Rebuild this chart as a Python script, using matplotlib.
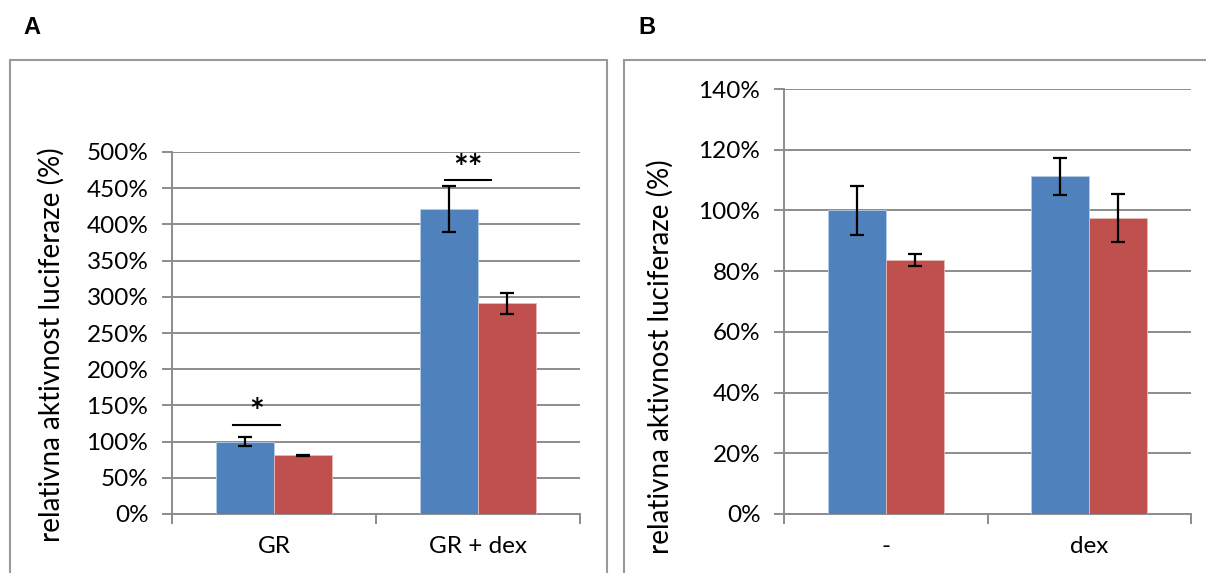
import matplotlib.pyplot as plt
import numpy as np
from matplotlib.patches import Rectangle
from matplotlib.ticker import FuncFormatter, FixedLocator

plt.rcParams['font.family'] = ['Lato', 'DejaVu Sans']

# panel A: GR reporter, without / with dex
cats_a = ['GR', 'GR + dex']
blue_a = [100, 421]
blue_err_a = [6.5, 31.5]
red_a = [81, 291]
red_err_a = [0.6, 14.5]
sig_a = ['*', '**']
sig_y_a = [123, 461]

# panel B: - / dex
cats_b = ['-', 'dex']
blue_b = [100, 111.3]
blue_err_b = [8.2, 6.1]
red_b = [83.7, 97.5]
red_err_b = [2.0, 7.8]

ylabel = 'relativna aktivnost luciferaze (%)'
BLUE = '#4F81BD'
RED = '#C0504D'
GRID = '#8c8c8c'
W = 1 / 3.5

fig = plt.figure(figsize=(12.06, 5.73), dpi=100)


def draw_panel(ax, cats, blue, blue_err, red, red_err, ymax, ystep):
    x = np.arange(len(cats))
    ekw = dict(ecolor='black', elinewidth=1.6, capsize=5, capthick=1.6)
    ax.bar(x - W / 2, blue, W, color=BLUE, edgecolor='#b8cce4', linewidth=0.6,
           yerr=blue_err, error_kw=ekw, zorder=3)
    ax.bar(x + W / 2, red, W, color=RED, edgecolor='#e6b9b8', linewidth=0.6,
           yerr=red_err, error_kw=ekw, zorder=3)
    ax.set_xlim(-0.5, len(cats) - 0.5)
    ax.set_ylim(0, ymax)
    ax.set_yticks(np.arange(0, ymax + 0.1, ystep))
    ax.yaxis.set_major_formatter(FuncFormatter(lambda v, p: f'{v:.0f}%'))
    ax.yaxis.grid(True, color=GRID, linewidth=1.4, zorder=0)
    ax.set_axisbelow(True)
    # tick marks between categories, labels at the centres
    ax.xaxis.set_major_locator(FixedLocator(np.arange(len(cats) + 1) - 0.5))
    ax.xaxis.set_minor_locator(FixedLocator(x))
    ax.set_xticklabels([], minor=False)
    ax.set_xticklabels(cats, minor=True)
    ax.tick_params(axis='x', which='major', length=7, width=1.4, color=GRID,
                   direction='out')
    ax.tick_params(axis='x', which='minor', length=0, pad=16, labelsize=17.5)
    ax.tick_params(axis='y', length=7, width=1.4, color=GRID, labelsize=17.5, pad=10)
    for s in ['top', 'right']:
        ax.spines[s].set_visible(False)
    for s in ['left', 'bottom']:
        ax.spines[s].set_color(GRID)
        ax.spines[s].set_linewidth(1.4)
    ax.set_ylabel(ylabel, fontsize=20)


ax_a = fig.add_axes([172 / 1206, 59 / 573, 408 / 1206, 362 / 573])
draw_panel(ax_a, cats_a, blue_a, blue_err_a, red_a, red_err_a, 500, 50)
ax_a.yaxis.set_label_coords(-0.262, 0.467)

# significance bars over panel A
sig_x = [(-0.20, 0.03), (-0.16, 0.065)]
for i, ((x0, x1), y, s) in enumerate(zip(sig_x, sig_y_a, sig_a)):
    ax_a.plot([i + x0, i + x1], [y, y], color='black', linewidth=1.5, zorder=4)
    ax_a.text(i + (x0 + x1) / 2, y - 6, s, ha='center', va='bottom', fontsize=25,
              fontweight='bold')

ax_b = fig.add_axes([784 / 1206, 59 / 573, 407 / 1206, 425 / 573])
draw_panel(ax_b, cats_b, blue_b, blue_err_b, red_b, red_err_b, 140, 20)
ax_b.yaxis.set_label_coords(-0.27, 0.37)

# panel frames, cut off at the edges of the image
frame_kw = dict(transform=fig.transFigure, fill=False, edgecolor='#9a9a9a',
                linewidth=1.5, clip_on=False)
fig.patches.append(Rectangle((9.5 / 1206, -0.1), 597.5 / 1206, (573 - 60) / 573 + 0.1, **frame_kw))
fig.patches.append(Rectangle((623.5 / 1206, -0.1), 0.5, (573 - 60) / 573 + 0.1, **frame_kw))

fig.text(32 / 1206, 1 - 27 / 573, 'A', fontsize=17, fontweight='bold', ha='center', va='center',
         family=['Liberation Sans', 'DejaVu Sans'])
fig.text(647 / 1206, 1 - 27 / 573, 'B', fontsize=17, fontweight='bold', ha='center', va='center',
         family=['Liberation Sans', 'DejaVu Sans'])

fig.savefig('out.png', dpi=100)
